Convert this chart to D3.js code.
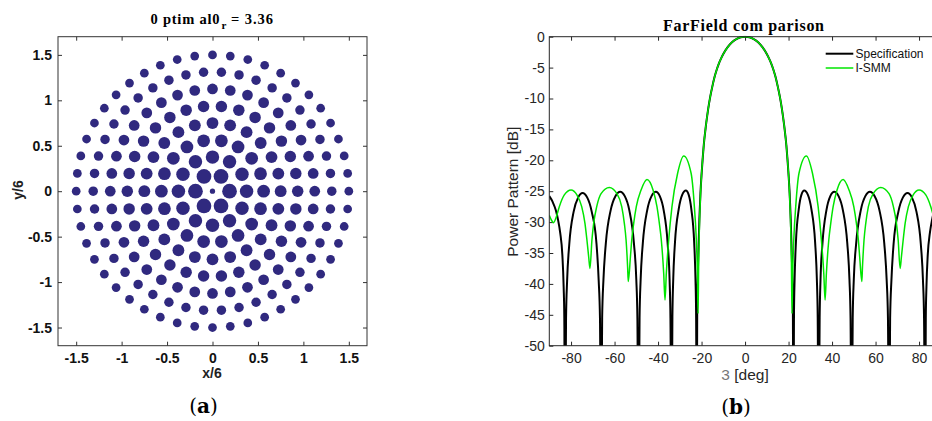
<!DOCTYPE html>
<html>
<head>
<meta charset="utf-8">
<script src="https://cdn.jsdelivr.net/npm/d3@7"></script>
<style>
  html, body { margin: 0; padding: 0; background: #fff; }
  svg { display: block; }
</style>
</head>
<body>
<svg id="chart" width="932" height="421"></svg>
<script>
// ---------- (a) ring array layout ----------
// ring radii (x/lambda), number of elements on each ring, element radius on each ring
const ringRadius    = [0, 0.1875, 0.375, 0.5625, 0.75, 0.9375, 1.125, 1.3125, 1.5];
const ringCount     = [1, 6, 12, 18, 24, 30, 36, 42, 48];
const elementRadius = [0.029, 0.081, 0.074, 0.070, 0.065, 0.063, 0.059, 0.052, 0.048];
const layoutTicks      = [-1.5, -1, -0.5, 0, 0.5, 1, 1.5];
const layoutTickLabels = ["-1.5", "-1", "-0.5", "0", "0.5", "1", "1.5"];

// ---------- (b) far-field power pattern ----------
const angleTicks      = [-80, -60, -40, -20, 0, 20, 40, 60, 80];
const angleTickLabels = ["-80", "-60", "-40", "-20", "0", "20", "40", "60", "80"];
const powerTicks      = [0, -5, -10, -15, -20, -25, -30, -35, -40, -45, -50];
const powerTickLabels = ["0", "-5", "-10", "-15", "-20", "-25", "-30", "-35", "-40", "-45", "-50"];
const seriesNames = ["Specification", "I-SMM"];

// [theta in deg, power in dB]
const specification = [
  [-90, -25.8], [-88.5, -26.7], [-87, -28.1], [-86, -29.6], [-85, -31.7], [-84, -35.3], [-83.4, -40.5], [-83.1, -45.5], [-82.8, -70],
  [-82.3, -45.6], [-81.8, -39.4], [-80.8, -33.5], [-78.8, -28.3], [-76.7, -26.0], [-74.7, -25.3], [-72.6, -26.0], [-70.5, -28.3], [-68.3, -33.5], [-67.3, -39.4], [-66.7, -45.6], [-66.2, -70],
  [-65.7, -45.5], [-65.1, -39.3], [-64.0, -33.4], [-61.8, -28.1], [-59.6, -25.8], [-57.4, -25.1], [-55.3, -25.8], [-53.2, -28.1], [-51.1, -33.4], [-50.0, -39.3], [-49.5, -45.5], [-49.0, -70],
  [-48.5, -45.5], [-48.0, -39.3], [-47.0, -33.4], [-45.0, -28.1], [-43.0, -25.8], [-41.0, -25.1], [-39.2, -25.8], [-37.4, -28.1], [-35.6, -33.4], [-34.7, -39.3], [-34.3, -45.5], [-33.8, -70],
  [-33.4, -45.3], [-33.0, -39.1], [-32.2, -33.2], [-30.5, -27.9], [-28.9, -25.6], [-27.2, -24.9], [-25.9, -25.6], [-24.7, -27.9], [-23.4, -33.2], [-22.8, -39.1], [-22.5, -45.0], [-22.2, -70],
  [-22.0, -45.0], [-21.8, -40.0], [-21.5, -35.5], [-21.0, -29.5], [-20.5, -25.3], [-20.0, -22.3], [-19.5, -19.8], [-19.0, -17.6], [-18.0, -14.4], [-17.0, -11.8], [-16.0, -9.7],
  [-15.0, -8.0], [-14.0, -6.5], [-13.0, -5.3], [-12.0, -4.3], [-11.0, -3.5], [-10.0, -2.8], [-8.0, -1.7], [-6.0, -0.9], [-4.0, -0.4], [-2.0, -0.1], [0, 0],
  [2.0, -0.1], [4.0, -0.4], [6.0, -0.9], [8.0, -1.7], [10.0, -2.8], [11.0, -3.5], [12.0, -4.3], [13.0, -5.3], [14.0, -6.5], [15.0, -8.0],
  [16.0, -9.7], [17.0, -11.8], [18.0, -14.4], [19.0, -17.6], [19.5, -19.8], [20.0, -22.3], [20.5, -25.3], [21.0, -29.5], [21.5, -35.5], [21.8, -40.0], [22.0, -45.0], [22.2, -70],
  [22.5, -45.0], [22.8, -39.1], [23.4, -33.2], [24.7, -27.9], [25.9, -25.6], [27.2, -24.9], [28.9, -25.6], [30.5, -27.9], [32.2, -33.2], [33.0, -39.1], [33.4, -45.3], [33.8, -70],
  [34.3, -45.5], [34.7, -39.3], [35.6, -33.4], [37.4, -28.1], [39.2, -25.8], [41.0, -25.1], [43.0, -25.8], [45.0, -28.1], [47.0, -33.4], [48.0, -39.3], [48.5, -45.5], [49.0, -70],
  [49.5, -45.5], [50.0, -39.3], [51.1, -33.4], [53.2, -28.1], [55.3, -25.8], [57.4, -25.1], [59.6, -25.8], [61.8, -28.1], [64.0, -33.4], [65.1, -39.3], [65.7, -45.5], [66.2, -70],
  [66.7, -45.6], [67.3, -39.4], [68.3, -33.5], [70.5, -28.3], [72.6, -26.0], [74.7, -25.3], [76.7, -26.0], [78.8, -28.3], [80.8, -33.5], [81.8, -39.4], [82.3, -45.6], [82.8, -70],
  [83.1, -45.5], [83.4, -40.5], [84, -35.3], [85, -31.7], [86, -29.6], [87, -28.1], [88.5, -26.7], [90, -25.8]
];

const ismm = [
  [-90, -28.9], [-89, -29.7], [-88, -30.1], [-87, -29.4], [-85.4, -27.5], [-83.1, -25.6], [-80.0, -24.8], [-77.3, -25.6], [-75.1, -27.5], [-73.6, -30.2], [-72.7, -32.9], [-71.9, -35.6], [-71.3, -37.5],
  [-70.4, -32.9], [-69.6, -30.2], [-68.2, -27.5], [-66.2, -25.4], [-62.4, -24.4], [-58.9, -25.4], [-56.7, -27.5], [-55.5, -30.2], [-54.7, -32.9], [-54.0, -37.2], [-53.7, -39.6],
  [-52.7, -35.6], [-52.1, -32.9], [-51.2, -30.2], [-50.0, -27.5], [-47.8, -24.8], [-45.1, -23.1], [-42.3, -24.8], [-40.5, -27.5], [-39.4, -30.2], [-38.5, -32.9], [-37.4, -38.3], [-36.8, -42.6],
  [-36.2, -38.3], [-35.1, -32.9], [-33.6, -27.5], [-31.0, -22.1], [-28.2, -19.3], [-24.8, -22.1], [-23.3, -27.5], [-22.4, -32.9], [-21.9, -38.3], [-21.6, -44.8],
  [-21.3, -36.0], [-21.0, -31.0], [-20.5, -25.8], [-20.0, -22.3], [-19.5, -19.8], [-19.0, -17.6], [-18.0, -14.4], [-17.0, -11.8], [-16.0, -9.7],
  [-15.0, -8.0], [-14.0, -6.5], [-13.0, -5.3], [-12.0, -4.3], [-11.0, -3.5], [-10.0, -2.8], [-8.0, -1.7], [-6.0, -0.9], [-4.0, -0.4], [-2.0, -0.1], [0, 0],
  [2.0, -0.1], [4.0, -0.4], [6.0, -0.9], [8.0, -1.7], [10.0, -2.8], [11.0, -3.5], [12.0, -4.3], [13.0, -5.3], [14.0, -6.5], [15.0, -8.0],
  [16.0, -9.7], [17.0, -11.8], [18.0, -14.4], [19.0, -17.6], [19.5, -19.8], [20.0, -22.3], [20.5, -25.8], [21.0, -31.0], [21.3, -36.0], [21.6, -44.8],
  [21.9, -38.3], [22.4, -32.9], [23.3, -27.5], [24.8, -22.1], [28.2, -19.3], [31.0, -22.1], [33.6, -27.5], [35.1, -32.9], [36.2, -38.3], [36.8, -42.6],
  [37.4, -38.3], [38.5, -32.9], [39.4, -30.2], [40.5, -27.5], [42.3, -24.8], [45.1, -23.1], [47.8, -24.8], [50.0, -27.5], [51.2, -30.2], [52.1, -32.9], [52.7, -35.6], [53.7, -39.6],
  [54.0, -37.2], [54.7, -32.9], [55.5, -30.2], [56.7, -27.5], [58.9, -25.4], [62.4, -24.4], [66.2, -25.4], [68.2, -27.5], [69.6, -30.2], [70.4, -32.9], [71.3, -37.5],
  [71.9, -35.6], [72.7, -32.9], [73.6, -30.2], [75.1, -27.5], [77.3, -25.6], [80.0, -24.8], [83.1, -25.6], [85.4, -27.5], [87, -29.4], [88, -30.1], [89, -29.7], [90, -28.9]
];

const svg = d3.select("#chart");
svg.append("rect").attr("width", 932).attr("height", 421).attr("fill", "#fff");

// ================= panel (a) =================
const ax = d3.scaleLinear().domain([-1.7, 1.7]).range([58, 367]);
const ay = d3.scaleLinear().domain([-1.7, 1.7]).range([345.7, 36.7]);

const elements = [];
ringRadius.forEach((rr, k) => {
  for (let j = 0; j < ringCount[k]; j++) {
    const a = 2 * Math.PI * j / ringCount[k];
    elements.push({ x: rr * Math.cos(a), y: rr * Math.sin(a), r: elementRadius[k] });
  }
});

const gA = svg.append("g");
gA.append("g").selectAll("circle").data(elements).join("circle")
  .attr("cx", d => ax(d.x))
  .attr("cy", d => ay(d.y))
  .attr("r", d => ax(d.r) - ax(0))
  .attr("fill", "#30297f");

function finishAxis(g, color, family, size, weight, textColor) {
  g.select(".domain").remove();
  g.selectAll(".tick line").attr("stroke", color);
  g.attr("font-family", family).attr("font-size", size).attr("font-weight", weight);
  g.selectAll(".tick text").attr("fill", textColor);
}
const aFont = "'Liberation Sans', Arial, sans-serif";
gA.append("g").attr("transform", `translate(0,${ay(-1.7)})`)
  .call(d3.axisBottom(ax).tickValues(layoutTicks).tickFormat((d, i) => layoutTickLabels[i]).tickSize(-4).tickPadding(7))
  .call(g => finishAxis(g, "#333", aFont, 14, "bold", "#111"));
gA.append("g").attr("transform", `translate(0,${ay(1.7)})`)
  .call(d3.axisTop(ax).tickValues(layoutTicks).tickFormat("").tickSize(-4))
  .call(g => finishAxis(g, "#333", aFont, 14, "bold", "#111"));
gA.append("g").attr("transform", `translate(${ax(-1.7)},0)`)
  .call(d3.axisLeft(ay).tickValues(layoutTicks).tickFormat((d, i) => layoutTickLabels[i]).tickSize(-4).tickPadding(6))
  .call(g => finishAxis(g, "#333", aFont, 14, "bold", "#111"));
gA.append("g").attr("transform", `translate(${ax(1.7)},0)`)
  .call(d3.axisRight(ay).tickValues(layoutTicks).tickFormat("").tickSize(-4))
  .call(g => finishAxis(g, "#333", aFont, 14, "bold", "#111"));
gA.append("rect")
  .attr("x", ax(-1.7)).attr("y", ay(1.7))
  .attr("width", ax(1.7) - ax(-1.7)).attr("height", ay(-1.7) - ay(1.7))
  .attr("fill", "none").attr("stroke", "#333").attr("stroke-width", 1);

// title (a)
const serifBold = "'Liberation Serif', 'Times New Roman', serif";
gA.append("text").attr("x", 150.5).attr("y", 24).attr("font-family", serifBold).attr("font-weight", "bold")
  .attr("font-size", 14.5).attr("textLength", 69).attr("lengthAdjust", "spacing").text("0 ptim al0");
gA.append("text").attr("x", 221.5).attr("y", 28.5).attr("font-family", serifBold).attr("font-weight", "bold")
  .attr("font-size", 11).text("r");
gA.append("text").attr("x", 231).attr("y", 24).attr("font-family", serifBold).attr("font-weight", "bold")
  .attr("font-size", 14.5).attr("textLength", 42).attr("lengthAdjust", "spacing").text("= 3.36");

// axis labels (a)
gA.append("text").attr("x", 212).attr("y", 378).attr("text-anchor", "middle")
  .attr("font-family", aFont).attr("font-weight", "bold").attr("font-size", 14).attr("fill", "#222").text("x/6");
gA.append("text").attr("transform", "translate(22.7,190) rotate(-90)").attr("text-anchor", "middle")
  .attr("font-family", aFont).attr("font-weight", "bold").attr("font-size", 14).attr("fill", "#222").text("y/6");

// ================= panel (b) =================
const bx = d3.scaleLinear().domain([-90, 90]).range([549.3, 940.8]);
const by = d3.scaleLinear().domain([-50, 0]).range([345.7, 36.7]);
const gB = svg.append("g");

gB.append("clipPath").attr("id", "plotClip").append("rect")
  .attr("x", bx(-90)).attr("y", by(0) - 1).attr("width", bx(90) - bx(-90)).attr("height", by(-50) - by(0) + 1);

const bFont = "'Liberation Sans', Arial, sans-serif";
gB.append("g").attr("transform", `translate(0,${by(-50)})`)
  .call(d3.axisBottom(bx).tickValues(angleTicks).tickFormat((d, i) => angleTickLabels[i]).tickSize(-4).tickPadding(7))
  .call(g => finishAxis(g, "#262626", bFont, 14, "normal", "#262626"));
gB.append("g").attr("transform", `translate(0,${by(0)})`)
  .call(d3.axisTop(bx).tickValues(angleTicks).tickFormat("").tickSize(-4))
  .call(g => finishAxis(g, "#262626", bFont, 14, "normal", "#262626"));
gB.append("g").attr("transform", `translate(${bx(-90)},0)`)
  .call(d3.axisLeft(by).tickValues(powerTicks).tickFormat((d, i) => powerTickLabels[i]).tickSize(-4).tickPadding(4.5))
  .call(g => finishAxis(g, "#262626", bFont, 14, "normal", "#262626"));
gB.append("g").attr("transform", `translate(${bx(90)},0)`)
  .call(d3.axisRight(by).tickValues(powerTicks).tickFormat("").tickSize(-4))
  .call(g => finishAxis(g, "#262626", bFont, 14, "normal", "#262626"));

const line = d3.line().x(d => bx(d[0])).y(d => by(d[1])).curve(d3.curveMonotoneX);
const plot = gB.append("g").attr("clip-path", "url(#plotClip)");
plot.append("path").datum(specification).attr("d", line)
  .attr("fill", "none").attr("stroke", "#000").attr("stroke-width", 2).attr("stroke-linejoin", "round");
plot.append("path").datum(ismm).attr("d", line)
  .attr("fill", "none").attr("stroke", "#00e600").attr("stroke-width", 1.5).attr("stroke-linejoin", "round");

gB.append("rect")
  .attr("x", bx(-90)).attr("y", by(0))
  .attr("width", bx(90) - bx(-90)).attr("height", by(-50) - by(0))
  .attr("fill", "none").attr("stroke", "#262626").attr("stroke-width", 1);

// legend
const legendColors = ["#000", "#00e600"];
const legendWidths = [2, 1.5];
seriesNames.forEach((name, i) => {
  const yy = 53.7 + i * 14.3;
  gB.append("line").attr("x1", 825.7).attr("x2", 853.3).attr("y1", yy).attr("y2", yy)
    .attr("stroke", legendColors[i]).attr("stroke-width", legendWidths[i]);
  gB.append("text").attr("x", 855.5).attr("y", yy + 4.3).attr("font-family", bFont).attr("font-size", 12)
    .attr("fill", "#111").text(name);
});

// title and axis labels (b)
gB.append("text").attr("x", 663).attr("y", 30.5).attr("font-family", serifBold).attr("font-weight", "bold")
  .attr("font-size", 16).attr("textLength", 161).attr("lengthAdjust", "spacing").text("FarField com parison");
gB.append("text").attr("transform", "translate(517.5,191.7) rotate(-90)").attr("text-anchor", "middle")
  .attr("font-family", bFont).attr("font-size", 15.5).attr("fill", "#262626").text("Power Pattern [dB]");
const xl = gB.append("text").attr("x", 745).attr("y", 380).attr("text-anchor", "middle")
  .attr("font-family", bFont).attr("font-size", 15.5).attr("fill", "#262626");
xl.append("tspan").attr("fill", "#777").text("3");
xl.append("tspan").text(" [deg]");

// panel captions
const capFont = "'DejaVu Serif', 'Liberation Serif', serif";
[["a", 203.5, 413], ["b", 736, 414]].forEach(([c, x, y]) => {
  const t = svg.append("text").attr("x", x).attr("y", y).attr("text-anchor", "middle")
    .attr("font-family", capFont).attr("font-size", 20).attr("fill", "#000");
  t.append("tspan").text("(");
  t.append("tspan").attr("font-weight", "bold").text(c);
  t.append("tspan").text(")");
});
</script>
</body>
</html>
